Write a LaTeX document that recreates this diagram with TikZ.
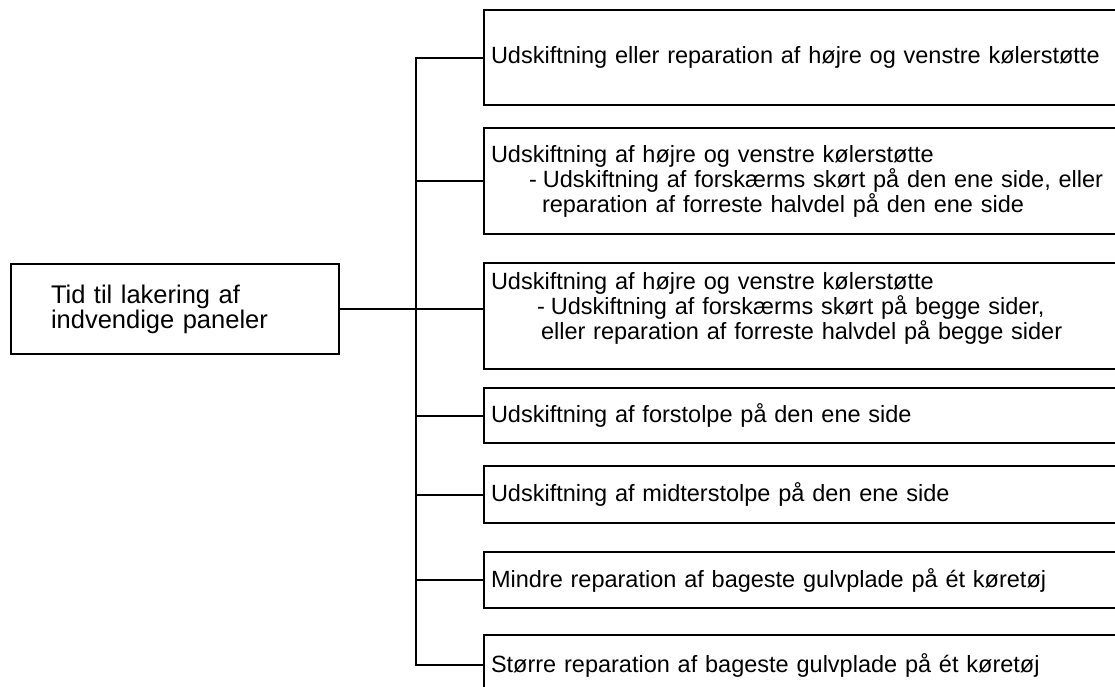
\documentclass[tikz,border=0pt]{standalone}
\usepackage{fontspec}
\setmainfont{Liberation Sans}
\usetikzlibrary{positioning,calc}
\tikzstyle{root} = [rectangle, draw, line width=2pt, anchor=north west, align=left, inner xsep=40pt, text width=248pt, minimum height=90pt, font=\fontsize{25.5}{25}\selectfont]
\tikzstyle{item} = [rectangle, draw, line width=2pt, anchor=north west, align=left, inner xsep=7pt, text width=628pt]
\tikzstyle{wire} = [line width=2pt]

\begin{document}
\begin{tikzpicture}[x=1pt, y=-1pt, font=\fontsize{23.5}{25}\selectfont]
    \clip (0,0) rectangle (1115,686);
    \useasboundingbox (0,0) rectangle (1115,686);
    \node[root] (tid) at (10,263) {Tid til lakering af\\indvendige paneler};

    \node[item, minimum height=95pt] (b1) at (483,9) {Udskiftning eller reparation af højre og venstre kølerstøtte};
    \node[item, minimum height=106pt] (b2) at (483,127) {Udskiftning af højre og venstre kølerstøtte\\
        \hspace*{38pt}-\hspace*{6pt}Udskiftning af forskærms skørt på den ene side, eller\\
        \hspace*{51pt}reparation af forreste halvdel på den ene side};
    \node[item, minimum height=106pt, text depth=71pt] (b3) at (483,262) {Udskiftning af højre og venstre kølerstøtte\\
        \hspace*{46pt}-\hspace*{6pt}Udskiftning af forskærms skørt på begge sider,\\
        \hspace*{50pt}eller reparation af forreste halvdel på begge sider};
    \node[item, minimum height=55pt] (b4) at (483,387) {Udskiftning af forstolpe på den ene side};
    \node[item, minimum height=57pt] (b5) at (483,465) {Udskiftning af midterstolpe på den ene side};
    \node[item, minimum height=56pt] (b6) at (483,551) {Mindre reparation af bageste gulvplade på ét køretøj};
    \node[item, minimum height=60pt] (b7) at (483,634) {Større reparation af bageste gulvplade på ét køretøj};

    \coordinate (spine) at (416,0);

    \draw[wire] (b1.west) -| (spine |- b7.west) -- (b7.west);
    \draw[wire] (tid.east) -- (tid.east -| b3.west);
    \draw[wire] (spine |- b2.west) -- (b2.west);
    \draw[wire] (spine |- b4.west) -- (b4.west);
    \draw[wire] (spine |- b5.west) -- (b5.west);
    \draw[wire] (spine |- b6.west) -- (b6.west);
\end{tikzpicture}
\end{document}
